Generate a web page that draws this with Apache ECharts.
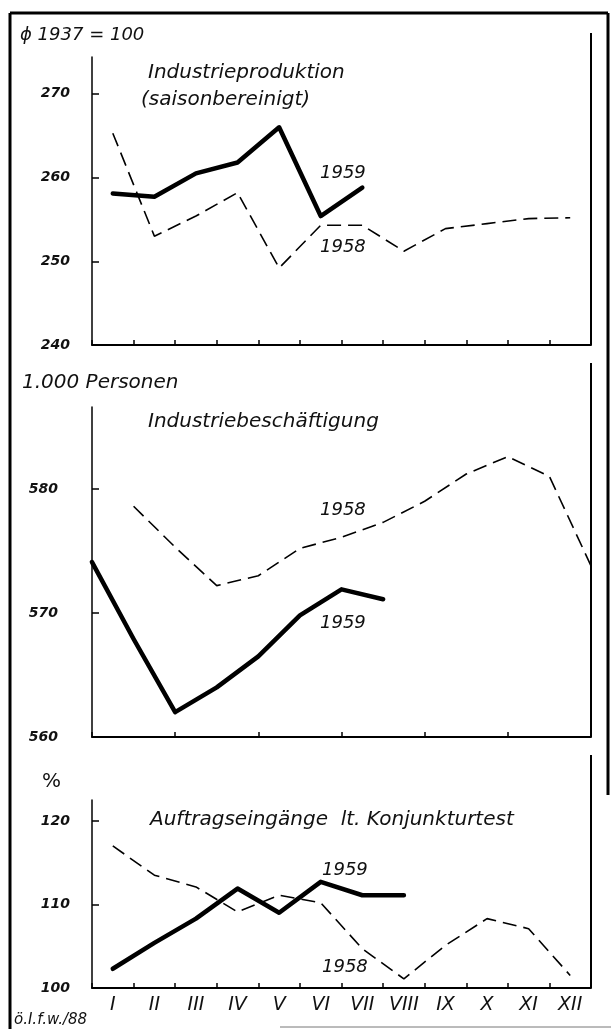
<!DOCTYPE html>
<html>
<head>
<meta charset="utf-8">
<script src="https://cdn.jsdelivr.net/npm/echarts@6/dist/echarts.min.js"></script>
<style>
html,body{margin:0;padding:0;background:#fff;}
#chart{width:611px;height:1029px;}
</style>
</head>
<body>
<div id="chart"></div>
<script>
// ---- data ----
const months = ['I','II','III','IV','V','VI','VII','VIII','IX','X','XI','XII'];
const monthEnds = ['XII/58','I','II','III','IV','V','VI','VII','VIII','IX','X','XI','XII'];

const prod1958 = [265.3, 253.0, 255.4, 258.2, 249.2, 254.3, 254.3, 251.2, 253.9, 254.5, 255.1, 255.2];
const prod1959 = [258.1, 257.7, 260.5, 261.8, 266.0, 255.4, 258.8];

const emp1958 = [null, 578.6, 575.3, 572.2, 573.0, 575.2, 576.1, 577.3, 579.0, 581.2, 582.6, 581.0, 573.8];
const emp1959 = [574.1, 567.9, 562.0, 564.0, 566.5, 569.8, 571.9, 571.1];

const ord1958 = [117.0, 113.5, 112.1, 109.1, 111.1, 110.2, 104.7, 101.1, 105.1, 108.3, 107.1, 101.5];
const ord1959 = [102.3, 105.4, 108.3, 111.9, 109.0, 112.7, 111.1, 111.1];

const prodTicks = [240, 250, 260, 270];
const empTicks = [560, 570, 580];
const ordTicks = [100, 110, 120];

// ---- styling ----
const FONT = 'DejaVu Sans';
const INK = '#111';
const chart = echarts.init(document.getElementById('chart'), null, {renderer: 'canvas'});

function yAxis(gi, min, max, ticks, margin) {
  return {
    type: 'value', gridIndex: gi, min: min, max: max, interval: 10,
    splitLine: {show: false},
    axisLine: {show: true, lineStyle: {color: '#000', width: 1.5}},
    axisTick: {show: true, inside: true, length: 7, lineStyle: {color: '#000', width: 1.5},
               customValues: ticks.slice(1)},
    axisLabel: {show: true, margin: margin, color: INK, fontFamily: FONT, fontStyle: 'italic',
                fontWeight: 'bold', fontSize: 14, customValues: ticks,
                formatter: v => (ticks.indexOf(Math.round(v)) >= 0 && Math.abs(v - Math.round(v)) < 1e-6) ? String(Math.round(v)) : ''}
  };
}
function xAxis(gi, data, gap, showLabel) {
  return {
    type: 'category', gridIndex: gi, data: data, boundaryGap: gap,
    axisLine: {show: true, lineStyle: {color: '#000', width: 2}},
    axisTick: {show: true, inside: true, length: 5, lineStyle: {color: '#000', width: 1.5}},
    axisLabel: {show: showLabel, margin: 8, color: INK, fontFamily: FONT, fontStyle: 'italic', fontSize: 19},
    splitLine: {show: false}
  };
}
function dashed(xi, data) {
  return {type: 'line', xAxisIndex: xi, yAxisIndex: xi, data: data, symbol: 'none', z: 2,
    connectNulls: false,
    lineStyle: {color: '#000', width: 1.6, type: [14, 7]}};
}
function solid(xi, data) {
  return {type: 'line', xAxisIndex: xi, yAxisIndex: xi, data: data, symbol: 'none', z: 3,
    lineStyle: {color: '#000', width: 4.5, cap: 'round', join: 'round'}};
}
function txt(s, x, y, size, opts) {
  opts = opts || {};
  return {type: 'text', x: x, y: y, z: 10, style: {
    text: s, fill: INK, fontFamily: FONT, fontSize: size,
    fontStyle: opts.upright ? 'normal' : 'italic', fontWeight: opts.weight || 'normal',
    align: opts.align || 'left', textAlign: opts.align || 'left',
    verticalAlign: 'middle', textVerticalAlign: 'middle'}};
}
function ln(x1, y1, x2, y2, w, c) {
  return {type: 'line', z: 5, shape: {x1: x1, y1: y1, x2: x2, y2: y2},
    style: {stroke: c || '#000', lineWidth: w}};
}

const option = {
  animation: false,
  backgroundColor: '#fff',
  grid: [
    {left: 92, right: 20, top: 57, height: 288},
    {left: 92, right: 20, top: 407, height: 330},
    {left: 92, right: 20, top: 800, height: 188}
  ],
  xAxis: [
    xAxis(0, months, true, false),
    xAxis(1, monthEnds, false, false),
    xAxis(2, months, true, true)
  ],
  yAxis: [
    yAxis(0, 240, 274.4, prodTicks, 22),
    yAxis(1, 560, 586.6, empTicks, 34),
    yAxis(2, 100, 122.5, ordTicks, 22)
  ],
  series: [
    dashed(0, prod1958), solid(0, prod1959),
    dashed(1, emp1958), solid(1, emp1959),
    dashed(2, ord1958), solid(2, ord1959)
  ],
  graphic: [
    // frame
    ln(10, 13, 10, 1029, 3),
    ln(10, 13, 608, 13, 3),
    ln(608, 13, 608, 795, 3),
    ln(280, 1027, 611, 1027, 1, '#777'),
    // panel right edges
    ln(591, 33, 591, 345, 2),
    ln(591, 363, 591, 737, 2),
    ln(591, 755, 591, 988, 2),
    // units
    txt('ϕ 1937 = 100', 20, 35, 18),
    txt('1.000 Personen', 22, 383, 20),
    txt('%', 42, 782, 20, {upright: true}),
    // panel titles
    txt('Industrieproduktion', 148, 73, 20),
    txt('(saisonbereinigt)', 141, 100, 20),
    txt('Industriebeschäftigung', 148, 422, 20),
    txt('Auftragseingänge  lt. Konjunkturtest', 150, 820, 20),
    // series labels
    txt('1959', 320, 173, 18),
    txt('1958', 320, 247, 18),
    txt('1958', 320, 510, 18),
    txt('1959', 320, 623, 18),
    txt('1959', 322, 870, 18),
    txt('1958', 322, 967, 18),
    // source
    txt('ö.I.f.w./88', 14, 1020, 15)
  ]
};
chart.setOption(option);
</script>
</body>
</html>
